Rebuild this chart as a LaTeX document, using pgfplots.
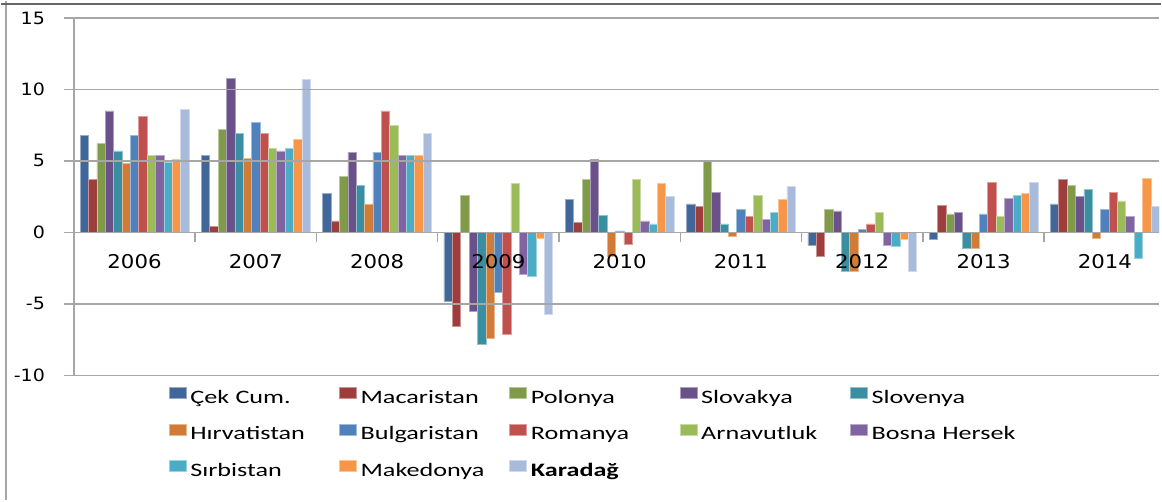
\documentclass[border=0pt]{standalone}
\usepackage{pgfplots}
\pgfplotsset{compat=1.18}
\usepackage{pgfplotstable}
\usepackage{fontspec}
\setmainfont{Carlito}
\newfontfamily\legfont[FakeStretch=1.38]{Carlito}
\newfontfamily\tickfont[FakeStretch=1.12]{DejaVu Sans}

\definecolor{c1}{HTML}{41679A}
\definecolor{c2}{HTML}{9E3D3B}
\definecolor{c3}{HTML}{7F9A48}
\definecolor{c4}{HTML}{6A5189}
\definecolor{c5}{HTML}{3A8EA2}
\definecolor{c6}{HTML}{D07C36}
\definecolor{c7}{HTML}{4F81BD}
\definecolor{c8}{HTML}{C0504D}
\definecolor{c9}{HTML}{9BBB59}
\definecolor{c10}{HTML}{8064A2}
\definecolor{c11}{HTML}{4BACC6}
\definecolor{c12}{HTML}{F79646}
\definecolor{c13}{HTML}{A9BBDA}
\definecolor{gridgray}{HTML}{A6A6A6}

\pgfplotstableread{
x  c1   c2   c3   c4   c5   c6   c7   c8   c9   c10  c11  c12  c13
0  6.8  3.7  6.2  8.5  5.7  4.8  6.8  8.1  5.4  5.4  4.9  5.1  8.6
1  5.4  0.4  7.2  10.8 6.9  5.2  7.7  6.9  5.9  5.7  5.9  6.5  10.7
2  2.7  0.8  3.9  5.6  3.3  2.0  5.6  8.5  7.5  5.4  5.4  5.4  6.9
3  -4.8 -6.6 2.6  -5.5 -7.8 -7.4 -4.2 -7.1 3.4  -2.9 -3.1 -0.4 -5.7
4  2.3  0.7  3.7  5.1  1.2  -1.7 0.1  -0.8 3.7  0.8  0.6  3.4  2.5
5  2.0  1.8  5.0  2.8  0.6  -0.3 1.6  1.1  2.6  0.9  1.4  2.3  3.2
6  -0.9 -1.7 1.6  1.5  -2.7 -2.7 0.2  0.6  1.4  -0.9 -1.0 -0.5 -2.7
7  -0.5 1.9  1.3  1.4  -1.1 -1.1 1.3  3.5  1.1  2.4  2.6  2.7  3.5
8  2.0  3.7  3.3  2.5  3.0  -0.4 1.6  2.8  2.2  1.1  -1.8 3.8  1.8
}\datatable

\begin{document}
\begin{tikzpicture}
\path (0,0) rectangle (581pt,250pt);
\draw[gray!70, line width=1pt] (2.5pt,0) -- (2.5pt,250pt);
\draw[black!60, line width=1pt] (0,248.5pt) -- (581pt,248.5pt);
\begin{axis}[
  set layers=axis on top,
  at={(36.5pt,62.5pt)}, anchor=south west,
  scale only axis, width=543.7pt, height=179pt,
  xmin=-0.5, xmax=8.45, ymin=-10, ymax=15,
  axis x line*=middle, axis y line*=left,
  xtick align=outside, ytick align=outside,
  major tick length=5pt,
  ytick={-10,-5,0,5,10,15},
  yticklabels={-10,-5,0,5,10,15},
  yticklabel style={font=\tickfont\fontsize{8.5}{10}\selectfont, xshift=-6pt, text=black},
  xtick={-0.5,0.5,...,7.5}, xticklabels={},
  extra x ticks={0,1,2,3,4,5,6,7,8},
  extra x tick labels={2006,2007,2008,2009,2010,2011,2012,2013,2014},
  extra x tick style={tick style={draw=none}, grid=none},
  xticklabel style={font=\tickfont\fontsize{9.5}{10}\selectfont, text=black, yshift=-2.5pt},
  ymajorgrids,
  major grid style={gridgray, line width=0.75pt},
  axis line style={gridgray, line width=0.75pt},
  tick style={gridgray, line width=0.75pt},
  ybar=0pt, bar width=0.069,
  legend columns=5,
  legend image code/.code={\fill[#1] (0pt,0pt) rectangle (8.5pt,5.5pt);},
  legend style={at={(0.0874,-0.0335)}, anchor=north west, draw=none, fill=none,
    inner sep=0pt, outer sep=0pt, row sep=8pt,
    font=\legfont\fontsize{9.5}{11}\selectfont,
    /tikz/every odd column/.append style={column sep=2pt},
    nodes={inner sep=0pt, text height=7pt, text depth=2pt, text width=74.5pt, align=left}},
]
\addplot[fill=c1, draw=c1!55!white, line width=0.3pt] table[x=x,y=c1] {\datatable};
\addplot[fill=c2, draw=c2!55!white, line width=0.3pt] table[x=x,y=c2] {\datatable};
\addplot[fill=c3, draw=c3!55!white, line width=0.3pt] table[x=x,y=c3] {\datatable};
\addplot[fill=c4, draw=c4!55!white, line width=0.3pt] table[x=x,y=c4] {\datatable};
\addplot[fill=c5, draw=c5!55!white, line width=0.3pt] table[x=x,y=c5] {\datatable};
\addplot[fill=c6, draw=c6!55!white, line width=0.3pt] table[x=x,y=c6] {\datatable};
\addplot[fill=c7, draw=c7!55!white, line width=0.3pt] table[x=x,y=c7] {\datatable};
\addplot[fill=c8, draw=c8!55!white, line width=0.3pt] table[x=x,y=c8] {\datatable};
\addplot[fill=c9, draw=c9!55!white, line width=0.3pt] table[x=x,y=c9] {\datatable};
\addplot[fill=c10, draw=c10!55!white, line width=0.3pt] table[x=x,y=c10] {\datatable};
\addplot[fill=c11, draw=c11!55!white, line width=0.3pt] table[x=x,y=c11] {\datatable};
\addplot[fill=c12, draw=c12!55!white, line width=0.3pt] table[x=x,y=c12] {\datatable};
\addplot[fill=c13, draw=c13!55!white, line width=0.3pt] table[x=x,y=c13] {\datatable};
\legend{Çek Cum., Macaristan, Polonya, Slovakya, Slovenya, Hırvatistan, Bulgaristan, Romanya, Arnavutluk, \mbox{Bosna Hersek}, Sırbistan, Makedonya, \textbf{Karadağ}}
\end{axis}
\end{tikzpicture}
\end{document}
